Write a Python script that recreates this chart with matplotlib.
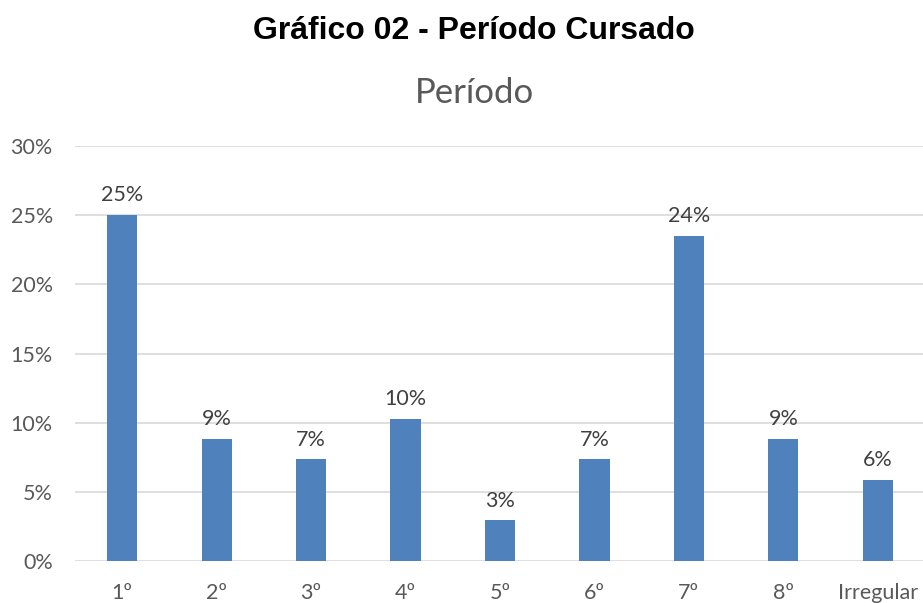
import numpy as np
import matplotlib
matplotlib.use('Agg')
import matplotlib.pyplot as plt
from matplotlib.ticker import PercentFormatter

categories = ['1º', '2º', '3º', '4º', '5º', '6º', '7º', '8º', 'Irregular']
counts = [17, 6, 5, 7, 2, 5, 16, 6, 4]
shares = np.array(counts) / sum(counts)
yticks = [0, 0.05, 0.10, 0.15, 0.20, 0.25, 0.30]

plt.rcParams['font.family'] = ['Lato', 'DejaVu Sans']

fig = plt.figure(figsize=(9.23, 6.03), dpi=100)
ax = fig.add_axes([75 / 923, 1 - 561 / 603, 850 / 923, (561 - 146) / 603])

x = np.arange(len(categories))
ax.bar(x, shares, width=0.32, color='#4F81BD', zorder=3)

for xi, v in zip(x, shares):
    ax.text(xi, v + 0.007, '{:.0f}%'.format(v * 100), ha='center', va='bottom',
            fontsize=15.5, color='#404040')

ax.set_xlim(-0.5, len(categories) - 0.5)
ax.set_ylim(0, 0.30)
ax.set_yticks(yticks)
ax.yaxis.set_major_formatter(PercentFormatter(1.0, decimals=0))
ax.set_xticks(x)
ax.set_xticklabels(categories)
ax.tick_params(axis='both', length=0, labelsize=15.5, labelcolor='#595959')
ax.tick_params(axis='y', pad=16)
ax.tick_params(axis='x', pad=16)
ax.grid(axis='y', color='#D9D9D9', linewidth=1.2, zorder=0)
for side in ax.spines.values():
    side.set_visible(False)

fig.text(474 / 923, 1 - 31 / 603, 'Gráfico 02 - Período Cursado', ha='center', va='center',
         fontsize=23, fontweight='bold', family='Liberation Sans', color='black')
fig.text(474 / 923, 1 - 93 / 603, 'Período', ha='center', va='center',
         fontsize=25, color='#595959')

fig.savefig('out.png', dpi=100)
